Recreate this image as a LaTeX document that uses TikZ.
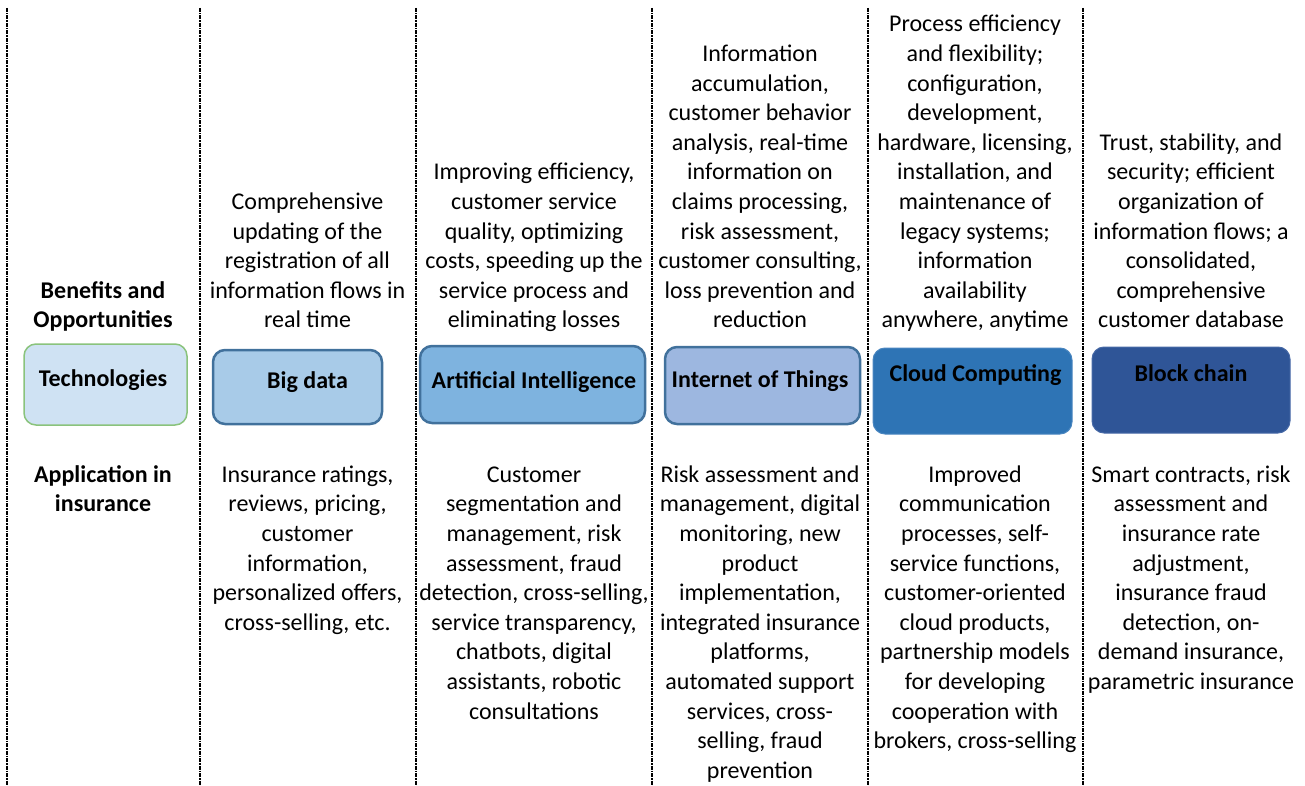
\documentclass[tikz,border=0pt]{standalone}
\usepackage{fontspec}
\setmainfont{Carlito}
\definecolor{techfill}{HTML}{CFE2F3}
\definecolor{techline}{HTML}{8AC37C}
\definecolor{boxline}{HTML}{41719C}
\definecolor{bigfill}{HTML}{A8CBE8}
\definecolor{aifill}{HTML}{7EB3DF}
\definecolor{iotfill}{HTML}{9DB7E0}
\definecolor{cloudfill}{HTML}{2E74B5}
\definecolor{cloudline}{HTML}{4A86C0}
\definecolor{chainfill}{HTML}{2F5597}
\definecolor{chainline}{HTML}{4769A6}
\begin{document}
\begin{tikzpicture}[x=1pt,y=-1pt,
  txt/.style={align=center,inner sep=0pt,font=\fontsize{24}{29.6}\selectfont},
  benefit/.style={txt,anchor=south},
  appl/.style={txt,anchor=north},
  tbox/.style={rounded corners=12pt,line width=2.5pt,draw=boxline,inner sep=0pt},
  tlabel/.style={anchor=base,inner sep=0pt,font=\fontsize{24}{29.6}\selectfont\bfseries},
  sep/.style={line width=2pt,dash pattern=on 4pt off 1pt on 1.5pt off 1pt}]
\useasboundingbox (0,0) rectangle (1305,786);
% column separators
\foreach \x in {7,200,416,652,868,1083}
\draw[sep] (\x,8) -- (\x,786);

% technology boxes
\node[tbox,draw=techline,line width=1.5pt,fill=techfill,minimum width=163pt,minimum height=81pt] (tech) at (105.5,384.5) {};
\node[tbox,fill=bigfill,minimum width=169pt,minimum height=74pt] (bigdata) at (297.5,387) {};
\node[tbox,fill=aifill,minimum width=225pt,minimum height=77pt] (ai) at (532.5,384.5) {};
\node[tbox,fill=iotfill,minimum width=195pt,minimum height=77pt] (iot) at (762.5,385.5) {};
\node[tbox,draw=cloudline,line width=1pt,fill=cloudfill,minimum width=199pt,minimum height=86pt] (cloud) at (972.5,391) {};
\node[tbox,draw=chainline,line width=1pt,fill=chainfill,minimum width=198pt,minimum height=86pt] (chain) at (1191,390) {};

\node[tlabel] (techlbl) at (103,386.7) {Technologies};
\node[tlabel] (bigdatalbl) at (307.5,388) {Big data};
\node[tlabel] (ailbl) at (534,388) {Artificial Intelligence};
\node[tlabel] (iotlbl) at (760,387.7) {Internet of Things};
\node[tlabel] (cloudlbl) at (975.5,381.7) {Cloud Computing};
\node[tlabel] (chainlbl) at (1191,381.7) {Block chain};

% row headings
\node[benefit,font=\fontsize{24}{29.6}\selectfont\bfseries] (benhead) at (103,337) {Benefits and\\Opportunities\strut};
\node[appl,font=\fontsize{24}{29.6}\selectfont\bfseries] (apphead) at (103,461.3) {\strut Application in\\insurance};

% benefits and opportunities
\node[benefit] (benbig) at (307.5,337) {Comprehensive\\updating of the\\registration of all\\information flows in\\real time\strut};
\node[benefit] (benai) at (534,337) {Improving efficiency,\\customer service\\quality, optimizing\\costs, speeding up the\\service process and\\eliminating losses\strut};
\node[benefit] (beniot) at (760,337) {Information\\accumulation,\\customer behavior\\analysis, real-time\\information on\\claims processing,\\risk assessment,\\customer consulting,\\loss prevention and\\reduction\strut};
\node[benefit] (bencloud) at (975,337) {Process efficiency\\and flexibility;\\configuration,\\development,\\hardware, licensing,\\installation, and\\maintenance of\\legacy systems;\\information\\availability\\anywhere, anytime\strut};
\node[benefit] (benchain) at (1191,337) {Trust, stability, and\\security; efficient\\organization of\\information flows; a\\consolidated,\\comprehensive\\customer database\strut};

% application in insurance
\node[appl] (appbig) at (307.5,461.3) {\strut Insurance ratings,\\reviews, pricing,\\customer\\information,\\personalized offers,\\cross-selling, etc.};
\node[appl] (appai) at (534,461.3) {\strut Customer\\segmentation and\\management, risk\\assessment, fraud\\detection, cross-selling,\\service transparency,\\chatbots, digital\\assistants, robotic\\consultations};
\node[appl] (appiot) at (760,461.3) {\strut Risk assessment and\\management, digital\\monitoring, new\\product\\implementation,\\integrated insurance\\platforms,\\automated support\\services, cross-\\selling, fraud\\prevention};
\node[appl] (appcloud) at (975,461.3) {\strut Improved\\communication\\processes, self-\\service functions,\\customer-oriented\\cloud products,\\partnership models\\for developing\\cooperation with\\brokers, cross-selling};
\node[appl] (appchain) at (1191,461.3) {\strut Smart contracts, risk\\assessment and\\insurance rate\\adjustment,\\insurance fraud\\detection, on-\\demand insurance,\\parametric insurance};
\end{tikzpicture}
\end{document}
